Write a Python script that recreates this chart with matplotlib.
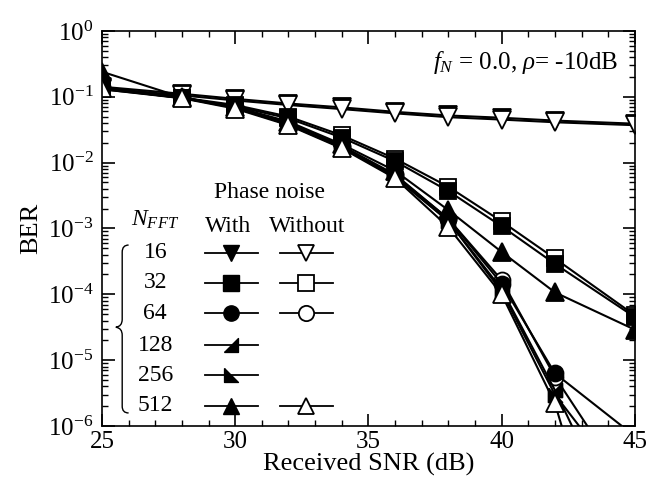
import matplotlib
matplotlib.use("Agg")
import matplotlib.pyplot as plt
from matplotlib.path import Path
from matplotlib.patches import PathPatch
from matplotlib.ticker import LogLocator, MultipleLocator, NullFormatter

plt.rcParams['font.family'] = ['Liberation Serif', 'DejaVu Serif']
plt.rcParams['mathtext.fontset'] = 'custom'
plt.rcParams['mathtext.rm'] = 'Liberation Serif'
plt.rcParams['mathtext.it'] = 'Liberation Serif:italic'

snr = [25, 28, 30, 32, 34, 36, 38, 40, 42, 45]

ber_16_with = [0.142, 0.111, 0.093, 0.079, 0.069, 0.059, 0.052, 0.048, 0.0435, 0.039]
ber_16_without = [0.135, 0.105, 0.088, 0.075, 0.065, 0.056, 0.049, 0.045, 0.041, 0.037]
ber_32_with = [0.13, 0.095, 0.072, 0.047, 0.024, 0.0105, 0.0037, 0.00108, 0.00029, 4.5e-5]
ber_32_without = [0.13, 0.097, 0.075, 0.05, 0.026, 0.0115, 0.0043, 0.00128, 0.00035, 4.8e-5]
ber_64_with = [0.14, 0.098, 0.07, 0.04, 0.018, 0.0066, 0.0014, 1.45e-4, 6.3e-6, 7e-7]
ber_64_without = [0.135, 0.097, 0.069, 0.039, 0.0175, 0.0064, 0.0014, 1.65e-4, 5.6e-6, 8e-8]
ber_128_with = [0.135, 0.097, 0.068, 0.038, 0.017, 0.0062, 0.0013, 1.2e-4, 3.5e-6, 1e-8]
ber_256_with = [0.135, 0.096, 0.068, 0.038, 0.017, 0.006, 0.0013, 1.1e-4, 3.0e-6, 8e-8]
ber_512_with = [0.24, 0.098, 0.07, 0.042, 0.019, 0.0075, 0.0019, 4.4e-4, 1.07e-4, 2.9e-5]
ber_512_without = [0.135, 0.095, 0.066, 0.037, 0.0165, 0.0058, 0.00105, 1.0e-4, 2.2e-6, 2e-10]

fft_sizes = ['16', '32', '64', '128', '256', '512']

# half filled triangles for 128 and 256
tri_right = [(-1, -1), (1, -1), (1, 1), (-1, -1)]
tri_left = [(-1, 1), (-1, -1), (1, -1), (-1, 1)]

# (values, marker, filled, size) in drawing order
series = [
    (ber_16_with, 'v', True, 13),
    (ber_16_without, 'v', False, 13),
    (ber_32_without, 's', False, 11),
    (ber_32_with, 's', True, 11),
    (ber_64_without, 'o', False, 11.5),
    (ber_64_with, 'o', True, 11.5),
    (ber_128_with, tri_right, True, 10),
    (ber_256_with, tri_left, True, 10),
    (ber_512_with, '^', True, 13),
    (ber_512_without, '^', False, 13),
]

fig = plt.figure(figsize=(6.62, 4.83), dpi=100)
ax = fig.add_axes([0.154, 0.118, 0.805, 0.818])

for vals, mk, filled, ms in series:
    ax.plot(snr, vals, color='black', lw=1.5, marker=mk, ms=ms,
            mfc='black' if filled else 'white', mec='black', mew=1.3)

ax.set_yscale('log')
ax.set_xlim(25, 45)
ax.set_ylim(1e-6, 1)
ax.xaxis.set_major_locator(MultipleLocator(5))
ax.xaxis.set_minor_locator(MultipleLocator(1))
ax.yaxis.set_major_locator(LogLocator(base=10, numticks=10))
ax.yaxis.set_minor_locator(LogLocator(base=10, subs=range(2, 10), numticks=20))
ax.yaxis.set_minor_formatter(NullFormatter())
ax.tick_params(which='both', direction='in', top=True, right=True, labelsize=18)
ax.tick_params(which='major', length=9, width=1.2)
ax.tick_params(which='minor', length=4.5, width=1.0)
ax.tick_params(axis='y', pad=6)
for sp in ax.spines.values():
    sp.set_linewidth(1.2)

ax.set_xlabel('Received SNR (dB)', fontsize=19, labelpad=0)
ax.set_ylabel('BER', fontsize=19, labelpad=4)

ax.text(0.968, 0.92, r'$f_N$ = 0.0, $\rho$= -10dB', transform=ax.transAxes,
        ha='right', va='center', fontsize=18)

# hand-made legend
ax.text(0.315, 0.59, 'Phase noise', transform=ax.transAxes, ha='center', va='center', fontsize=17)
ax.text(0.099, 0.522, r'$N_{FFT}$', transform=ax.transAxes, ha='center', va='center', fontsize=17)
ax.text(0.236, 0.506, 'With', transform=ax.transAxes, ha='center', va='center', fontsize=17)
ax.text(0.386, 0.506, 'Without', transform=ax.transAxes, ha='center', va='center', fontsize=17)

row_y = [0.438, 0.362, 0.286, 0.205, 0.129, 0.051]
with_marks = [('v', 12), ('s', 11), ('o', 11), (tri_right, 10), (tri_left, 10), ('^', 12)]
without_marks = [('v', 12), ('s', 11), ('o', 11), None, None, ('^', 12)]
for lab, yy, wm, om in zip(fft_sizes, row_y, with_marks, without_marks):
    ax.text(0.1, yy, lab, transform=ax.transAxes, ha='center', va='center', fontsize=17)
    ax.plot([0.193, 0.293], [yy, yy], transform=ax.transAxes, color='black', lw=1.3, clip_on=False)
    ax.plot([0.243], [yy], transform=ax.transAxes, marker=wm[0], ms=wm[1], color='black',
            mfc='black', mec='black', clip_on=False)
    if om is not None:
        ax.plot([0.334, 0.433], [yy, yy], transform=ax.transAxes, color='black', lw=1.3, clip_on=False)
        ax.plot([0.383], [yy], transform=ax.transAxes, marker=om[0], ms=om[1], color='black',
                mfc='white', mec='black', mew=1.3, clip_on=False)

# curly brace on the left of the sizes
bx = 0.038
brace = Path(
    [(bx + 0.012, 0.458), (bx, 0.458), (bx, 0.44),
     (bx, 0.27),
     (bx, 0.252), (bx - 0.012, 0.25), (bx, 0.248),
     (bx, 0.23),
     (bx, 0.05), (bx, 0.033), (bx + 0.012, 0.033)],
    [Path.MOVETO, Path.CURVE3, Path.CURVE3,
     Path.LINETO,
     Path.CURVE3, Path.CURVE3, Path.CURVE3,
     Path.LINETO,
     Path.LINETO, Path.CURVE3, Path.CURVE3])
ax.add_patch(PathPatch(brace, transform=ax.transAxes, fill=False, lw=1.0, ec='black'))

fig.savefig('out.png', dpi=100)
